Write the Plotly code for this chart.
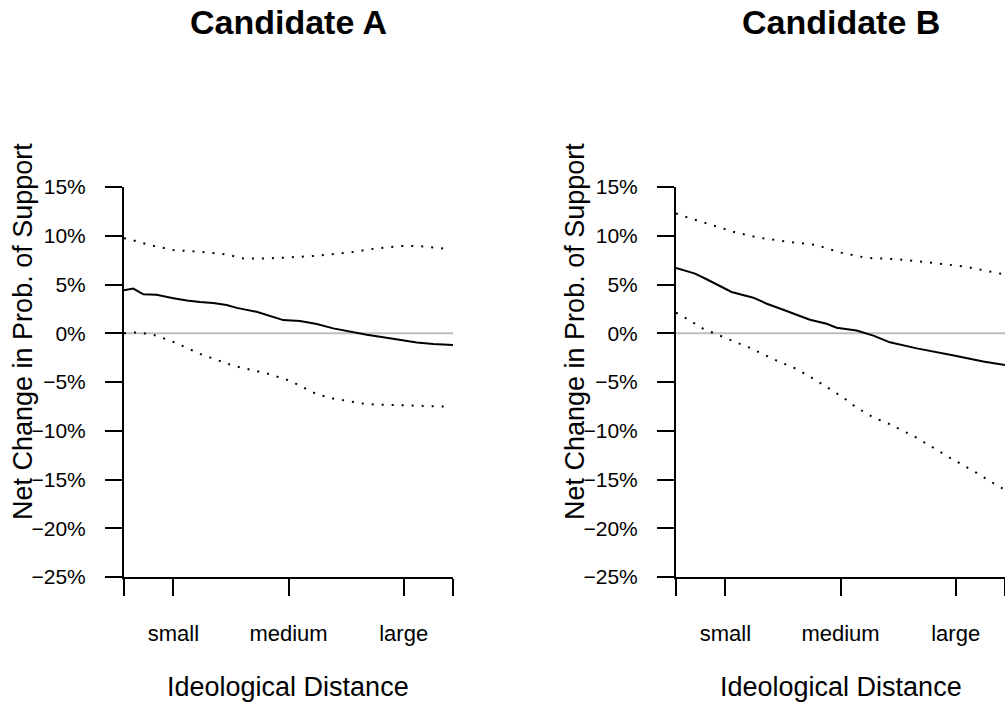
import plotly.graph_objects as go

# ---------------- data (percent) ----------------
a_mid_x = [0, 0.28, 0.59, 0.99, 1.5, 1.91, 2.31, 2.71, 3.12, 3.43, 4.03, 4.44, 4.84, 5.35, 5.86, 6.36, 6.87, 7.38, 7.88, 8.39, 8.9, 9.4, 10]
a_mid_y = [4.4, 4.58, 3.99, 3.95, 3.6, 3.35, 3.2, 3.1, 2.9, 2.6, 2.2, 1.75, 1.35, 1.25, 0.95, 0.5, 0.15, -0.15, -0.4, -0.7, -0.95, -1.1, -1.2]
a_hi_x = [0, 0.18, 0.79, 1.5, 2.31, 3.12, 3.63, 4.34, 4.95, 5.86, 6.87, 7.58, 8.39, 8.99, 9.91]
a_hi_y = [9.75, 9.63, 9.04, 8.53, 8.35, 8.08, 7.67, 7.67, 7.77, 7.94, 8.29, 8.66, 8.94, 8.94, 8.63]
a_lo_x = [0, 0.43, 0.99, 1.6, 2.31, 3.32, 4.34, 5.05, 5.86, 6.36, 7.38, 8.39, 9.91]
a_lo_y = [0.0, 0.1, -0.24, -1.03, -2.12, -3.33, -4.12, -4.88, -6.25, -6.7, -7.28, -7.38, -7.53]

b_mid_x = [0, 0.58, 0.93, 1.69, 2.35, 2.76, 3.26, 4.07, 4.58, 4.88, 5.49, 6.0, 6.5, 7.32, 8.33, 9.34, 10]
b_mid_y = [6.7, 6.12, 5.54, 4.23, 3.65, 3.03, 2.41, 1.38, 0.97, 0.56, 0.28, -0.24, -0.93, -1.55, -2.2, -2.89, -3.26]
b_hi_x = [0, 0.17, 0.93, 1.74, 2.45, 3.26, 4.28, 4.98, 5.79, 6.81, 7.82, 8.84, 10]
b_hi_y = [12.3, 12.06, 11.28, 10.41, 9.84, 9.45, 9.04, 8.29, 7.73, 7.57, 7.22, 6.8, 6.02]
b_lo_x = [0, 0.17, 0.83, 1.44, 2.25, 3.06, 3.67, 4.28, 5.09, 5.49, 6.1, 6.3, 7.32, 8.33, 9.14, 9.85, 10]
b_lo_y = [2.1, 1.82, 0.45, -0.41, -1.51, -2.81, -3.67, -4.88, -6.6, -7.63, -8.82, -9.0, -10.72, -12.78, -14.33, -15.8, -16.0]

y_ticks = [-25, -20, -15, -10, -5, 0, 5, 10, 15]
y_ticklabels = ["\u221225%", "\u221220%", "\u221215%", "\u221210%", "\u22125%", "0%", "5%", "10%", "15%"]
x_ticks = [0, 1.5, 5, 8.5, 10]
x_ticklabels = ["", "small", "medium", "large", ""]
titles = ["Candidate A", "Candidate B"]
x_title = "Ideological Distance"
y_title = "Net Change in Prob. of Support"

W, H = 1005, 707
FONT = "Liberation Sans, Arial, Helvetica, sans-serif"


def px(x):
    return x / W


def py(y):
    return (H - y) / H


fig = go.Figure()

panels = [
    (a_mid_x, a_mid_y, a_hi_x, a_hi_y, a_lo_x, a_lo_y, "x", "y"),
    (b_mid_x, b_mid_y, b_hi_x, b_hi_y, b_lo_x, b_lo_y, "x2", "y2"),
]
for mx, my, hx, hy, lx, ly, xa, ya in panels:
    fig.add_trace(go.Scatter(x=hx, y=hy, mode="lines", xaxis=xa, yaxis=ya,
                             line=dict(color="black", width=2, dash="2px,8px"), showlegend=False))
    fig.add_trace(go.Scatter(x=lx, y=ly, mode="lines", xaxis=xa, yaxis=ya,
                             line=dict(color="black", width=2, dash="2px,8px"), showlegend=False))
    fig.add_trace(go.Scatter(x=mx, y=my, mode="lines", xaxis=xa, yaxis=ya,
                             line=dict(color="black", width=2), showlegend=False))

left_dom = [px(124), px(453)]
right_dom = [px(676), 1.0]
y_dom = [py(577), py(187)]

xcommon = dict(range=[0, 10], tickmode="array", tickvals=x_ticks, ticktext=x_ticklabels,
               showline=True, linecolor="black", linewidth=2, ticks="outside", ticklen=17,
               tickwidth=2, tickcolor="black", showgrid=False, zeroline=False, automargin=False,
               tickfont=dict(family=FONT, size=22, color="black"), ticklabelstandoff=19,
               fixedrange=True)
ycommon = dict(range=[-25, 15], tickmode="array", tickvals=y_ticks, ticktext=y_ticklabels,
               showline=True, linecolor="black", linewidth=2, ticks="outside", ticklen=17,
               tickwidth=2, tickcolor="black", showgrid=False, zeroline=False, automargin=False,
               tickfont=dict(family=FONT, size=21, color="black"), ticklabelstandoff=15,
               domain=y_dom, fixedrange=True)

fig.update_layout(
    width=W, height=H,
    margin=dict(l=0, r=0, t=0, b=0, autoexpand=False),
    paper_bgcolor="white", plot_bgcolor="white",
    xaxis=dict(domain=left_dom, anchor="y", **xcommon),
    yaxis=dict(anchor="x", **ycommon),
    xaxis2=dict(domain=right_dom, anchor="y2", **xcommon),
    yaxis2=dict(anchor="x2", **ycommon),
    font=dict(family=FONT, color="black"),
    hovermode=False,
)

for xa, ya in [("x", "y"), ("x2", "y2")]:
    fig.add_shape(type="line", xref=xa + " domain", yref=ya, x0=0, x1=1, y0=0, y1=0,
                  line=dict(color="#BEBEBE", width=2), layer="below")

centers = [288, 841]
for cx, t in zip(centers, titles):
    fig.add_annotation(text="<b>" + t + "</b>", x=px(cx), y=py(22), xref="paper", yref="paper",
                       xanchor="center", yanchor="middle", showarrow=False, borderpad=0,
                       font=dict(family=FONT, size=34, color="black"))
    fig.add_annotation(text=x_title, x=px(cx), y=py(687), xref="paper", yref="paper",
                       xanchor="center", yanchor="middle", showarrow=False,
                       font=dict(family=FONT, size=27, color="black"))
for ax in [23, 575]:
    fig.add_annotation(text=y_title, x=px(ax), y=py(332), xref="paper", yref="paper",
                       xanchor="center", yanchor="middle", showarrow=False, textangle=-90,
                       font=dict(family=FONT, size=27, color="black"))

fig.write_html(
    "out.html",
    config={"displayModeBar": False, "staticPlot": True},
    post_script="document.body.style.margin='0';document.body.style.padding='0';"
                "document.body.style.overflow='hidden';",
)
